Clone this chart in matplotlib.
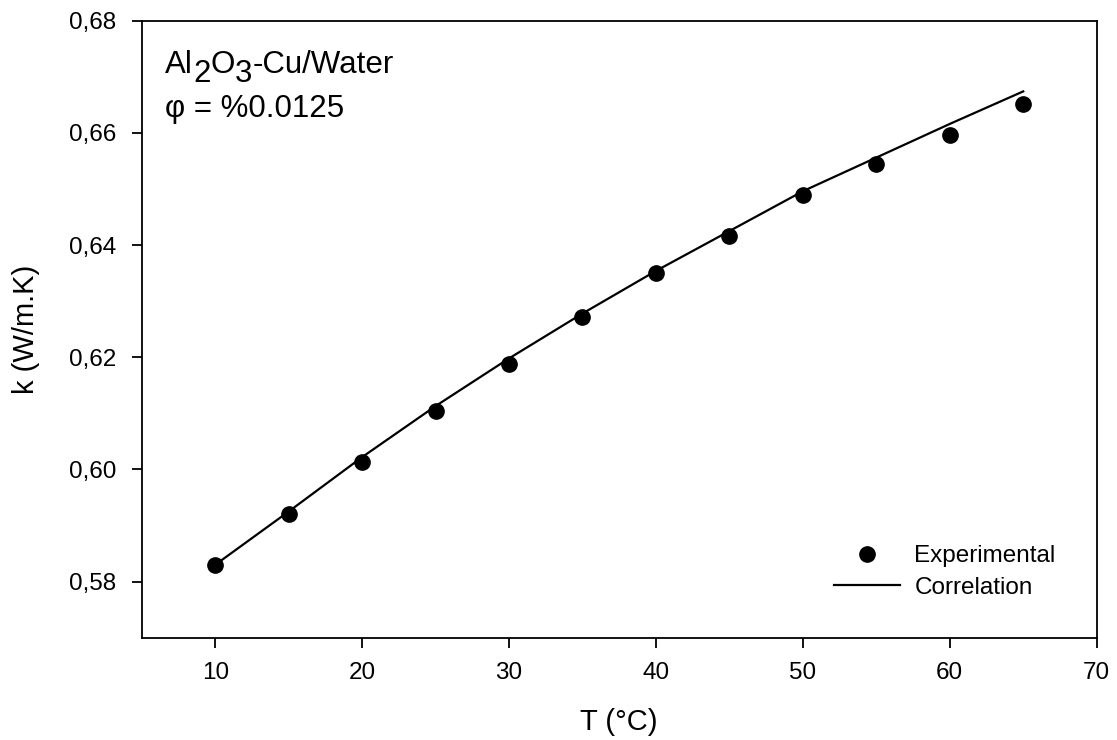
import matplotlib
matplotlib.use("Agg")
import matplotlib.pyplot as plt
from matplotlib.ticker import FuncFormatter

plt.rcParams['font.family'] = ['Liberation Sans', 'DejaVu Sans']

temp_exp = [10, 15, 20, 25, 30, 35, 40, 45, 50, 55, 60, 65]
k_exp = [0.5830, 0.5921, 0.6014, 0.6105, 0.6188, 0.6271,
         0.6351, 0.6417, 0.6489, 0.6544, 0.6596, 0.6651]

# correlation curve
temp_corr = [10, 15, 20, 25, 30, 35, 40, 45, 50, 55, 60, 65]
k_corr = [0.5830, 0.5925, 0.6022, 0.6113, 0.6198, 0.6278,
          0.6354, 0.6425, 0.6496, 0.6556, 0.6616, 0.6674]

fig = plt.figure(figsize=(11.17, 7.4), dpi=100)
ax = fig.add_axes([0.1269, 0.1382, 0.8549, 0.8338])

ax.plot(temp_exp, k_exp, 'o', color='black', markersize=11, label='Experimental')
ax.plot(temp_corr, k_corr, '-', color='black', linewidth=1.6, label='Correlation')

ax.set_xlim(5, 70)
ax.set_ylim(0.57, 0.68)
ax.set_xticks([10, 20, 30, 40, 50, 60, 70])
ax.set_yticks([0.58, 0.60, 0.62, 0.64, 0.66, 0.68])
ax.yaxis.set_major_formatter(FuncFormatter(lambda v, p: f'{v:.2f}'.replace('.', ',')))
ax.tick_params(direction='out', length=7.5, width=1.3, labelsize=17.5)
ax.tick_params(axis='x', pad=10)
ax.tick_params(axis='y', pad=11)

for s in ax.spines.values():
    s.set_linewidth(1.3)

ax.set_xlabel('T (°C)', fontsize=21, va='baseline')
ax.set_ylabel('k (W/m.K)', fontsize=21, va='center')
ax.xaxis.set_label_coords(0.5, -0.1496)
ax.yaxis.set_label_coords(-0.121, 0.5)

# sample label, subscripts drawn nearly full size like the original
fs = 22.5
parts = [('Al', 0), ('2', -6.5), ('O', 0), ('3', -6.5), ('-Cu/Water', 0)]
prev = ax.text(0.0244, 0.9152, parts[0][0], transform=ax.transAxes, fontsize=fs, va='baseline')
for txt, dy in parts[1:]:
    prev = ax.annotate(txt, xy=(1, 0), xycoords=prev, xytext=(0, dy),
                       textcoords='offset points', fontsize=fs, va='bottom', ha='left')
    if dy:
        # next piece goes back to the normal baseline
        prev = ax.annotate('', xy=(1, 0), xycoords=prev, xytext=(0, -dy),
                           textcoords='offset points', fontsize=fs, va='bottom')
ax.text(0.0244, 0.8439, 'φ = %0.0125', transform=ax.transAxes, fontsize=fs, va='baseline')

ax.legend(loc='upper left', bbox_to_anchor=(0.715, 0.166), frameon=False, fontsize=17.5,
          handlelength=2.7, handletextpad=0.6, labelspacing=0.4, borderaxespad=0)

fig.savefig('out.png', dpi=100)
